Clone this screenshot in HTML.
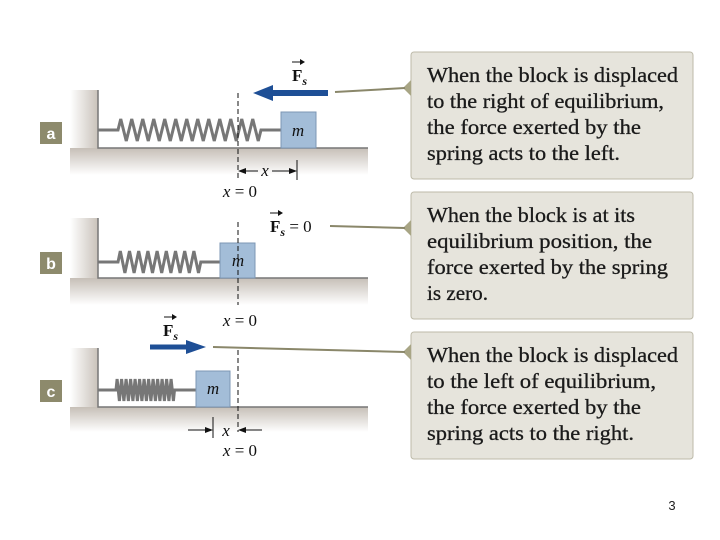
<!DOCTYPE html>
<html><head><meta charset="utf-8"><style>
html,body{margin:0;padding:0;background:#fff;width:720px;height:540px;overflow:hidden}
svg{display:block}
.t{font-family:"Liberation Serif",serif;font-size:21px;fill:#1a1a1a;stroke:#1a1a1a;stroke-width:0.3}
.m{font-family:"Liberation Serif",serif;font-size:17px;fill:#111}
</style></head><body>
<svg width="720" height="540" viewBox="0 0 720 540" xmlns="http://www.w3.org/2000/svg">
<defs>
<linearGradient id="wall" x1="0" x2="1" y1="0" y2="0"><stop offset="0" stop-color="#fff"/><stop offset="1" stop-color="#c9c2ba"/></linearGradient>
<linearGradient id="floor" x1="0" x2="0" y1="0" y2="1"><stop offset="0" stop-color="#c6bfb7"/><stop offset="1" stop-color="#fff"/></linearGradient>
</defs>

<g>
<rect x="411" y="52" width="282" height="127" rx="3" fill="#e6e4dc" stroke="#bdbaa9"/>
<rect x="411" y="192" width="282" height="127" rx="3" fill="#e6e4dc" stroke="#bdbaa9"/>
<rect x="411" y="332" width="282" height="127" rx="3" fill="#e6e4dc" stroke="#bdbaa9"/>
<polygon points="411,80 403,88 411,96" fill="#a8a585"/>
<polygon points="411,220 403,228 411,236" fill="#a8a585"/>
<polygon points="411,344 403,352 411,360" fill="#a8a585"/>
<g lengthAdjust="spacingAndGlyphs">
<text class="t" x="427" y="82" textLength="251" lengthAdjust="spacingAndGlyphs">When the block is displaced</text>
<text class="t" x="427" y="108" textLength="237" lengthAdjust="spacingAndGlyphs">to the right of equilibrium,</text>
<text class="t" x="427" y="134" textLength="214" lengthAdjust="spacingAndGlyphs">the force exerted by the</text>
<text class="t" x="427" y="160" textLength="193" lengthAdjust="spacingAndGlyphs">spring acts to the left.</text>
<text class="t" x="427" y="222" textLength="208" lengthAdjust="spacingAndGlyphs">When the block is at its</text>
<text class="t" x="427" y="248" textLength="225" lengthAdjust="spacingAndGlyphs">equilibrium position, the</text>
<text class="t" x="427" y="274" textLength="241" lengthAdjust="spacingAndGlyphs">force exerted by the spring</text>
<text class="t" x="427" y="300" textLength="61" lengthAdjust="spacingAndGlyphs">is zero.</text>
<text class="t" x="427" y="362" textLength="251" lengthAdjust="spacingAndGlyphs">When the block is displaced</text>
<text class="t" x="427" y="388" textLength="229" lengthAdjust="spacingAndGlyphs">to the left of equilibrium,</text>
<text class="t" x="427" y="414" textLength="214" lengthAdjust="spacingAndGlyphs">the force exerted by the</text>
<text class="t" x="427" y="440" textLength="207" lengthAdjust="spacingAndGlyphs">spring acts to the right.</text>
</g>
</g>

<line x1="335" y1="92" x2="405" y2="88" stroke="#8a876a" stroke-width="2"/>
<line x1="330" y1="226" x2="405" y2="228" stroke="#8a876a" stroke-width="2"/>
<line x1="213" y1="347" x2="405" y2="352" stroke="#8a876a" stroke-width="2"/>

<!-- Panel a -->
<rect x="70" y="90" width="28" height="85" fill="url(#wall)"/>
<rect x="70" y="148" width="298" height="27" fill="url(#floor)"/>
<polyline points="98,90 98,148 368,148" fill="none" stroke="#777" stroke-width="1.5"/>
<rect x="40" y="122" width="22" height="22" fill="#8d8a6c"/>
<text x="51" y="139" text-anchor="middle" font-family="Liberation Sans,sans-serif" font-weight="bold" font-size="16" fill="#fff">a</text>
<path d="M98,130 h20 l2.75,-11 l5.5,22 l2.75,-11 l2.75,-11 l5.5,22 l2.75,-11 l2.75,-11 l5.5,22 l2.75,-11 l2.75,-11 l5.5,22 l2.75,-11 l2.75,-11 l5.5,22 l2.75,-11 l2.75,-11 l5.5,22 l2.75,-11 l2.75,-11 l5.5,22 l2.75,-11 l2.75,-11 l5.5,22 l2.75,-11 l2.75,-11 l5.5,22 l2.75,-11 l2.75,-11 l5.5,22 l2.75,-11 l2.75,-11 l5.5,22 l2.75,-11 l2.75,-11 l5.5,22 l2.75,-11 l2.75,-11 l5.5,22 l2.75,-11 H281" fill="none" stroke="#777" stroke-width="3"/>
<rect x="281" y="112" width="35" height="36" fill="#a3bdd8" stroke="#7d97b4"/>
<text class="m" x="298" y="136" text-anchor="middle" font-style="italic">m</text>
<line x1="238" y1="93" x2="238" y2="180" stroke="#111" stroke-dasharray="5,3"/>
<line x1="297" y1="160" x2="297" y2="180" stroke="#111"/>
<line x1="240" y1="171" x2="258" y2="171" stroke="#111"/><line x1="272" y1="171" x2="295" y2="171" stroke="#111"/>
<polygon points="238,171 246,168 246,174" fill="#111"/><polygon points="297,171 289,168 289,174" fill="#111"/>
<text class="m" x="265" y="176" text-anchor="middle" font-style="italic">x</text>
<text class="m" x="240" y="197" text-anchor="middle"><tspan font-style="italic">x</tspan> = 0</text>
<line x1="268" y1="93" x2="328" y2="93" stroke="#1e4f96" stroke-width="6"/>
<polygon points="253,93 273,85 273,101" fill="#1e4f96"/>
<text class="m" x="292" y="81" font-weight="bold">F<tspan font-size="12" font-style="italic" dy="4">s</tspan></text>
<line x1="292" y1="62" x2="303" y2="62" stroke="#111"/><polygon points="305,62 300,59 300,65" fill="#111"/>

<!-- Panel b -->
<rect x="70" y="218" width="28" height="87" fill="url(#wall)"/>
<rect x="70" y="278" width="298" height="27" fill="url(#floor)"/>
<polyline points="98,218 98,278 368,278" fill="none" stroke="#777" stroke-width="1.5"/>
<rect x="40" y="252" width="22" height="22" fill="#8d8a6c"/>
<text x="51" y="269" text-anchor="middle" font-family="Liberation Sans,sans-serif" font-weight="bold" font-size="16" fill="#fff">b</text>
<path d="M98,262 h20 l2.3,-11 l4.6,22 l2.3,-11 l2.3,-11 l4.6,22 l2.3,-11 l2.3,-11 l4.6,22 l2.3,-11 l2.3,-11 l4.6,22 l2.3,-11 l2.3,-11 l4.6,22 l2.3,-11 l2.3,-11 l4.6,22 l2.3,-11 l2.3,-11 l4.6,22 l2.3,-11 l2.3,-11 l4.6,22 l2.3,-11 l2.3,-11 l4.6,22 l2.3,-11 H220" fill="none" stroke="#777" stroke-width="3"/>
<rect x="220" y="243" width="35" height="35" fill="#a3bdd8" stroke="#7d97b4"/>
<text class="m" x="238" y="266" text-anchor="middle" font-style="italic">m</text>
<line x1="238" y1="222" x2="238" y2="305" stroke="#111" stroke-dasharray="5,3"/>
<text class="m" x="240" y="326" text-anchor="middle"><tspan font-style="italic">x</tspan> = 0</text>
<text class="m" x="270" y="232" font-weight="bold">F<tspan font-size="12" font-style="italic" dy="4">s</tspan><tspan dy="-4" font-weight="normal"> = 0</tspan></text>
<line x1="270" y1="213" x2="281" y2="213" stroke="#111"/><polygon points="283,213 278,210 278,216" fill="#111"/>

<!-- Panel c -->
<rect x="70" y="348" width="28" height="84" fill="url(#wall)"/>
<rect x="70" y="407" width="298" height="25" fill="url(#floor)"/>
<polyline points="98,348 98,407 368,407" fill="none" stroke="#777" stroke-width="1.5"/>
<rect x="40" y="380" width="22" height="22" fill="#8d8a6c"/>
<text x="51" y="397" text-anchor="middle" font-family="Liberation Sans,sans-serif" font-weight="bold" font-size="16" fill="#fff">c</text>
<path d="M98,390 h18 l1.1,-11 l2.3,22 l1.1,-11 l1.1,-11 l2.3,22 l1.1,-11 l1.1,-11 l2.3,22 l1.1,-11 l1.1,-11 l2.3,22 l1.1,-11 l1.1,-11 l2.3,22 l1.1,-11 l1.1,-11 l2.3,22 l1.1,-11 l1.1,-11 l2.3,22 l1.1,-11 l1.1,-11 l2.3,22 l1.1,-11 l1.1,-11 l2.3,22 l1.1,-11 l1.1,-11 l2.3,22 l1.1,-11 l1.1,-11 l2.3,22 l1.1,-11 l1.1,-11 l2.3,22 l1.1,-11 l1.1,-11 l2.3,22 l1.1,-11 H196" fill="none" stroke="#777" stroke-width="3"/>
<rect x="196" y="371" width="34" height="36" fill="#a3bdd8" stroke="#7d97b4"/>
<text class="m" x="213" y="394" text-anchor="middle" font-style="italic">m</text>
<line x1="238" y1="350" x2="238" y2="432" stroke="#111" stroke-dasharray="5,3"/>
<line x1="213" y1="417" x2="213" y2="438" stroke="#111"/>
<line x1="188" y1="430" x2="205" y2="430" stroke="#111"/><polygon points="213,430 205,427 205,433" fill="#111"/>
<line x1="246" y1="430" x2="262" y2="430" stroke="#111"/><polygon points="238,430 246,427 246,433" fill="#111"/>
<text class="m" x="226" y="436" text-anchor="middle" font-style="italic">x</text>
<text class="m" x="240" y="456" text-anchor="middle"><tspan font-style="italic">x</tspan> = 0</text>
<line x1="150" y1="347" x2="190" y2="347" stroke="#1e4f96" stroke-width="5"/>
<polygon points="206,347 186,340 186,354" fill="#1e4f96"/>
<text class="m" x="163" y="336" font-weight="bold">F<tspan font-size="12" font-style="italic" dy="4">s</tspan></text>
<line x1="164" y1="317" x2="175" y2="317" stroke="#111"/><polygon points="177,317 172,314 172,320" fill="#111"/>

<text x="672" y="510" text-anchor="middle" font-family="Liberation Sans,sans-serif" font-size="13" fill="#222">3</text>
</svg>
</body></html>
